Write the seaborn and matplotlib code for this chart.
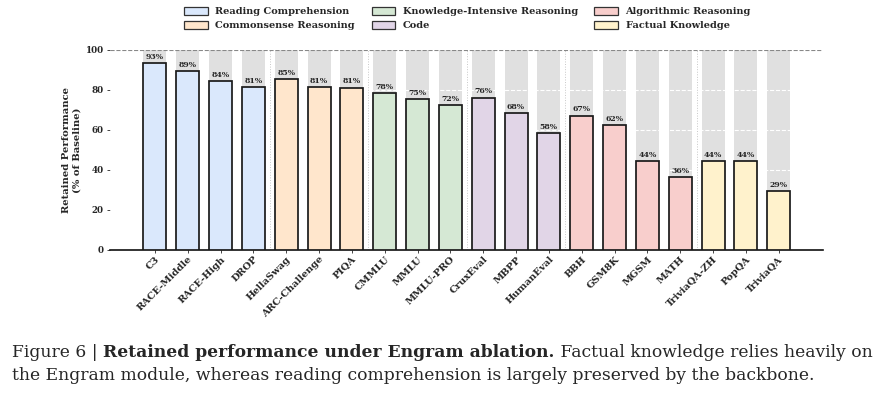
import matplotlib
matplotlib.use("Agg")
import matplotlib.pyplot as plt
import seaborn as sns
import pandas as pd
from matplotlib.patches import Patch

benchmarks = ["C3", "RACE-Middle", "RACE-High", "DROP",
              "HellaSwag", "ARC-Challenge", "PIQA",
              "CMMLU", "MMLU", "MMLU-PRO",
              "CruxEval", "MBPP", "HumanEval",
              "BBH", "GSM8K", "MGSM", "MATH",
              "TriviaQA-ZH", "PopQA", "TriviaQA"]
retained = [93.4, 89.4, 84.3, 81.4,
            85.4, 81.4, 81.0,
            78.3, 75.4, 72.3,
            76.0, 68.4, 58.2,
            67.0, 62.4, 44.4, 36.4,
            44.4, 44.3, 29.4]
categories = ["Reading Comprehension"] * 4 + ["Commonsense Reasoning"] * 3 + \
             ["Knowledge-Intensive Reasoning"] * 3 + ["Code"] * 3 + \
             ["Algorithmic Reasoning"] * 4 + ["Factual Knowledge"] * 3
cat_order = ["Reading Comprehension", "Commonsense Reasoning",
             "Knowledge-Intensive Reasoning", "Code",
             "Algorithmic Reasoning", "Factual Knowledge"]
cat_colors = ["#dae8fc", "#ffe6cc", "#d5e8d4", "#e1d5e7", "#f8cecc", "#fff2cc"]

df = pd.DataFrame({"Benchmark": benchmarks, "Retained": retained, "Category": categories})
df["Full"] = 100.0

sns.set_style("white")
plt.rcParams["font.family"] = ["DejaVu Serif"]
plt.rcParams["font.weight"] = "bold"

fig = plt.figure(figsize=(8.79, 3.96), dpi=100)
ax = fig.add_axes([0.125, 0.369, 0.811, 0.505])

# grey "100%" backdrop bars
sns.barplot(data=df, x="Benchmark", y="Full", color="#e0e0e0", width=0.7,
            saturation=1, ax=ax, zorder=1)
n_bg = len(ax.patches)
for p in ax.patches:
    p.set_edgecolor("none")

# retained bars
sns.barplot(data=df, x="Benchmark", y="Retained", hue="Category", hue_order=cat_order,
            palette=cat_colors, dodge=False, width=0.7, saturation=1, ax=ax,
            legend=False, zorder=3)
for p in ax.patches[n_bg:]:
    p.set_edgecolor("#1a1a1a")
    p.set_linewidth(1.25)
    p.set_zorder(3)

for yv in [20, 40, 60, 80]:
    ax.axhline(yv, color="white", lw=0.8, ls="--", zorder=2)
ax.axhline(100, color="#888888", lw=0.8, ls="--", zorder=4)

bounds = [3.5, 6.5, 9.5, 12.5, 16.5]
for b in bounds:
    ax.plot([b, b], [0, 100], color="#c8c8c8", lw=0.7, ls=":", zorder=2)

for i, v in enumerate(retained):
    ax.text(i, v + 1.2, f"{v:.0f}%", ha="center", va="bottom",
            fontsize=5.6, fontweight="bold", zorder=5)

ax.set_xlim(-1.37, 20.34)
ax.set_ylim(0, 100)
ax.set_yticks([0, 20, 40, 60, 80, 100])
ax.set_xlabel("")
ax.set_ylabel("Retained Performance\n(% of Baseline)", fontsize=7.2,
              fontweight="bold", labelpad=3)
ax.tick_params(axis="y", labelsize=6.3, length=2.5, width=0.6, pad=2, left=True)
ax.tick_params(axis="x", labelsize=7.0, length=2.5, width=0.6, pad=1, bottom=True)
plt.setp(ax.get_xticklabels(), rotation=45, ha="right", rotation_mode="anchor",
         fontweight="bold")
plt.setp(ax.get_yticklabels(), fontweight="bold")
for s in ["top", "right", "left"]:
    ax.spines[s].set_visible(False)
ax.spines["bottom"].set_linewidth(1.2)
ax.spines["bottom"].set_color("#111111")

handles = [Patch(facecolor=c, edgecolor="#333333", lw=0.9, label=l)
           for l, c in zip(cat_order, cat_colors)]
fig.legend(handles=handles, ncol=3, loc="upper center", bbox_to_anchor=(0.532, 1.005),
           frameon=False, handlelength=2.4, handleheight=0.9,
           columnspacing=1.7, labelspacing=0.45, handletextpad=0.8,
           prop={"weight": "bold", "size": 7.0})

# caption, sized so the first line fills the page width like the reference
cap_font = "DejaVu Serif"
renderer = fig.canvas.get_renderer()
line1 = [("Figure 6 | ", "normal"),
         ("Retained performance under Engram ablation.", "bold"),
         (" Factual knowledge relies heavily on", "normal")]
line2 = [("the Engram module, whereas reading comprehension is largely preserved by the backbone.",
          "normal")]


def runs_width(runs, size):
    w = 0
    for txt, wt in runs:
        t = fig.text(0, 0, txt, fontsize=size, family=cap_font, weight=wt)
        w += t.get_window_extent(renderer=renderer).width
        t.remove()
    return w


x0 = 0.014
target = 856
cap_size = 12 * target / runs_width(line1, 12)


def put_runs(y, runs):
    x = x0
    for txt, w in runs:
        t = fig.text(x, y, txt, fontsize=cap_size, family=cap_font, weight=w,
                     ha="left", va="baseline")
        bb = t.get_window_extent(renderer=renderer)
        x += bb.width / fig.bbox.width


put_runs(0.098, line1)
put_runs(0.040, line2)

fig.savefig("out.png", dpi=100)
